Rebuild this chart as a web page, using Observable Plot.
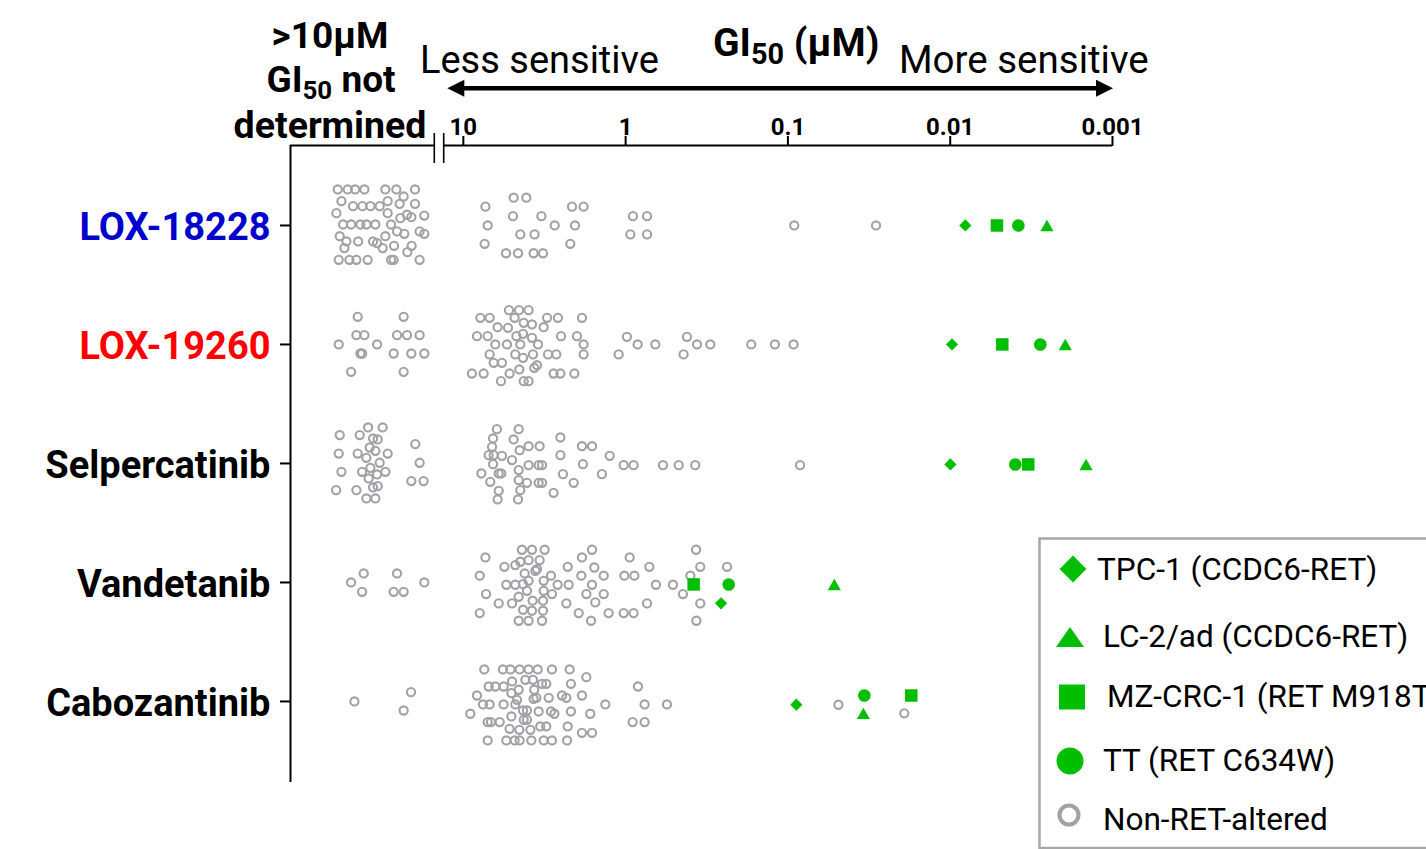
<!DOCTYPE html>
<html><head><meta charset="utf-8">
<script src="https://cdn.jsdelivr.net/npm/d3@7"></script>
<script src="https://cdn.jsdelivr.net/npm/@observablehq/plot@0.6"></script>
<style>
html,body{margin:0;padding:0;background:#fff;overflow:hidden;}
#chart{width:1426px;height:849px;position:relative;overflow:hidden;}
</style></head><body><div id="chart"></div>
<script>
// ---------- data ----------
const drugs = ["LOX-18228", "LOX-19260", "Selpercatinib", "Vandetanib", "Cabozantinib"];
const drugColors = ["#0000cc", "#ff0000", "#000000", "#000000", "#000000"];
const xTickValues = [10, 1, 0.1, 0.01, 0.001];
const xTickLabels = ["10", "1", "0.1", "0.01", "0.001"];
const retLines = ["TPC-1 (CCDC6-RET)", "LC-2/ad (CCDC6-RET)", "MZ-CRC-1 (RET M918T)", "TT (RET C634W)"];

// RET-altered lines: [log10 GI50 (µM), vertical jitter], in retLines order
const retLOX18228    = [[-2.093, 0], [-2.596, 0], [-2.288, 0], [-2.420, 0]];
const retLOX19260    = [[-2.011, 0], [-2.709, 0], [-2.321, 0], [-2.555, 0]];
const retSelper      = [[-2.001, 0.1], [-2.837, 0.1], [-2.481, 0.1], [-2.401, 0.1]];
const retVandetanib  = [[-0.588, 2.1], [-1.286, 0.2], [-0.419, 0.2], [-0.635, 0.2]];
const retCabozantinib= [[-1.052, 0.33], [-1.465, 1.2], [-1.760, -0.6], [-1.471, -0.6]];

// Non-RET-altered lines with measured GI50: [log10 GI50 (µM), vertical jitter]
const nonRetLOX18228 = [[0.864,-1.9],[0.850,0],[0.869,1.85],[0.690,-2.8],[0.612,-2.8],[0.694,-0.94],[0.519,-0.94],[0.437,0],[0.312,0],[0.649,0.9],[0.561,0.9],[0.341,1.85],[0.737,2.8],[0.663,2.8],[0.567,2.8],[0.509,2.8],[0.330,-1.9],[0.259,-1.9],[-0.045,-0.94],[-0.132,-0.94],[-0.029,0.9],[-0.132,0.9],[-1.039,0],[-1.543,0]];
const nonRetLOX19260 = [[0.719,-3.46],[0.657,-3.46],[0.598,-3.46],[0.895,-2.69],[0.838,-2.69],[0.684,-2.69],[0.484,-2.69],[0.417,-2.69],[0.269,-2.69],[0.628,-2.18],[0.577,-2.02],[0.505,-1.74],[0.789,-1.74],[0.725,-1.68],[0.916,-0.84],[0.850,-0.84],[0.673,-0.84],[0.632,-1.07],[0.577,-0.67],[0.398,-0.84],[0.300,-0.84],[0.803,0],[0.731,0],[0.649,0],[0.540,0],[0.259,0],[-0.074,0],[-0.183,0],[-0.440,0],[-0.522,0],[-0.008,-0.77],[-0.378,-0.77],[0.838,1.0],[0.680,1.0],[0.632,1.35],[0.571,1.0],[0.478,1.0],[0.427,1.0],[0.259,1.0],[0.043,1.0],[-0.357,1.0],[0.813,1.85],[0.762,1.85],[0.546,2.09],[0.563,2.35],[0.655,2.52],[0.947,2.93],[0.875,2.93],[0.715,2.93],[0.444,2.93],[0.402,2.93],[0.316,2.93],[0.768,3.7],[0.628,3.7],[0.598,3.7],[-0.774,0],[-0.920,0],[-1.035,0]];
const nonRetSelper = [[0.793,-3.46],[0.659,-3.46],[0.817,-2.52],[0.690,-2.42],[0.402,-2.62],[0.823,-1.68],[0.653,-1.34],[0.598,-1.74],[0.530,-1.74],[0.269,-1.74],[0.207,-1.74],[0.844,-0.84],[0.813,-0.84],[0.762,-0.77],[0.700,-0.34],[0.402,-0.84],[0.098,-0.77],[0.817,0.07],[0.598,0.17],[0.536,0.17],[0.515,0.17],[0.263,0.07],[0.012,0.17],[-0.049,0.17],[-0.230,0.17],[-0.327,0.17],[-0.429,0.17],[0.889,1.01],[0.782,1.01],[0.766,1.01],[0.659,0.67],[0.386,1.08],[0.146,1.08],[0.834,1.85],[0.659,1.68],[0.608,1.95],[0.536,1.95],[0.515,1.95],[0.320,1.95],[0.782,2.76],[0.649,2.69],[0.444,2.96],[0.789,3.63],[0.663,3.63],[-1.075,0.17]];
const nonRetVandetanib = [[0.639,-3.30],[0.577,-3.30],[0.499,-3.30],[0.864,-2.52],[0.649,-2.09],[0.598,-2.25],[0.530,-2.25],[0.747,-1.58],[0.680,-1.75],[0.546,-1.35],[0.556,-1.18],[0.899,-0.68],[0.622,-0.91],[0.460,-0.68],[0.598,-0.17],[0.735,0.23],[0.680,0.23],[0.632,0.17],[0.505,-0.17],[0.419,0.23],[0.351,0.23],[0.608,0.84],[0.505,0.84],[0.454,1.17],[0.860,1.17],[0.659,1.44],[0.782,2.11],[0.700,2.11],[0.573,1.84],[0.509,1.84],[0.899,3.09],[0.632,2.75],[0.577,2.85],[0.509,2.85],[0.659,3.86],[0.598,3.86],[0.515,3.86],[0.357,-1.58],[0.269,-2.52],[0.207,-3.30],[0.193,-1.51],[0.273,-0.68],[0.135,-0.68],[0.207,0.23],[0.242,1.17],[0.135,1.17],[0.365,2.11],[0.187,2.01],[0.289,3.09],[0.213,3.86],[0.105,3.09],[-0.025,-2.52],[-0.146,-1.58],[0.008,-0.68],[-0.054,-0.68],[-0.187,0.23],[-0.292,0.23],[-0.353,1.17],[-0.132,2.11],[0.012,3.09],[-0.049,3.09],[-0.434,-3.30],[-0.460,-1.58],[-0.399,-0.68],[-0.460,2.11],[-0.436,3.86],[-0.625,-1.58]];
const nonRetCabozantinib = [[0.871,-3.23],[0.756,-3.23],[0.710,-3.23],[0.653,-3.23],[0.598,-3.23],[0.542,-3.23],[0.454,-3.23],[0.345,-3.23],[0.242,-2.45],[0.618,-2.18],[0.571,-2.18],[0.700,-2.02],[0.515,-1.78],[0.489,-1.78],[0.337,-1.78],[0.844,-1.51],[0.803,-1.51],[0.752,-1.51],[0.659,-1.18],[0.563,-1.18],[-0.076,-1.51],[0.916,-0.60],[0.704,-0.84],[0.669,-0.17],[0.567,-0.27],[0.550,-0.37],[0.474,-0.37],[0.392,-0.60],[0.365,-0.37],[0.269,-0.60],[0.879,0.30],[0.838,0.30],[0.752,0.30],[0.680,0.30],[0.125,0.30],[-0.117,0.30],[-0.255,0.30],[0.957,1.24],[0.632,0.91],[0.608,0.91],[0.536,1.01],[0.460,1.01],[0.439,1.24],[0.337,1.01],[0.218,1.24],[0.704,1.51],[0.850,2.08],[0.830,2.08],[0.776,2.08],[0.628,1.85],[0.608,1.85],[0.526,2.52],[0.489,2.52],[0.357,2.52],[-0.043,2.08],[-0.117,2.08],[0.715,2.76],[0.655,2.86],[0.587,2.86],[0.269,3.16],[0.207,3.16],[0.850,3.93],[0.735,3.93],[0.684,3.93],[0.653,3.93],[0.581,3.93],[0.505,3.93],[0.454,3.93],[0.361,3.93],[-1.311,0.33],[-1.717,1.2]];

// >10 µM, GI50 not determined: [position across the ND band (0–14.4), vertical jitter]
const ndLOX18228 = [[4.73,-3.63],[5.73,-3.63],[6.47,-3.63],[7.4,-3.63],[9.5,-3.63],[10.6,-3.63],[12.47,-3.63],[11.33,-2.92],[5.1,-2.45],[9.73,-2.45],[6.27,-1.95],[7.2,-1.95],[8.0,-1.95],[8.93,-1.95],[10.93,-2.18],[12.47,-2.18],[4.6,-1.24],[9.73,-1.24],[11.0,-0.74],[11.67,-1.08],[12.1,-0.84],[13.4,-1.0],[5.27,-0.1],[6.07,-0.1],[7.0,-0.1],[7.6,-0.1],[8.5,-0.1],[10.07,-0.1],[10.67,0.6],[11.4,0.84],[12.93,0.6],[13.4,0.84],[4.93,1.08],[9.5,1.08],[5.6,1.61],[6.77,1.61],[8.27,1.61],[8.67,1.78],[5.4,2.28],[9.23,2.28],[10.37,2.05],[12.13,2.05],[11.7,2.69],[4.83,3.46],[5.9,3.46],[6.6,3.46],[7.73,3.46],[10.07,3.46],[10.33,3.46],[12.93,3.46]];
const ndLOX19260 = [[6.73,-2.79],[11.33,-2.79],[6.6,-0.94],[7.4,-0.94],[10.67,-0.94],[11.67,-0.94],[12.93,-0.94],[4.83,0],[8.67,0],[7.0,0.91],[7.17,0.91],[10.33,0.91],[12.1,0.91],[13.4,0.91],[6.07,2.76],[11.33,2.76]];
const ndSelper = [[4.93,-2.86],[6.93,-2.86],[7.77,-3.63],[9.23,-3.63],[8.27,-2.52],[8.73,-2.42],[4.83,-1.0],[6.73,-1.0],[7.93,-1.61],[8.5,-1.27],[9.73,-1.0],[7.6,-0.57],[8.93,-0.07],[5.1,0.84],[7.17,0.84],[8.0,0.44],[8.67,1.11],[9.5,0.84],[7.83,1.51],[4.57,2.69],[6.6,2.69],[8.27,2.42],[8.73,2.29],[7.6,3.53],[8.5,3.53],[12.5,-1.95],[12.93,-0.07],[12.1,1.78],[13.33,1.78]];
const ndVandetanib = [[6.07,0],[7.33,-0.91],[7.17,0.94],[10.67,-0.91],[10.33,0.94],[11.33,0.94],[13.4,0]];
const ndCabozantinib = [[6.4,0],[12.07,-0.94],[11.33,0.91]];

const retByDrug = [retLOX18228, retLOX19260, retSelper, retVandetanib, retCabozantinib];
const nonRetByDrug = [nonRetLOX18228, nonRetLOX19260, nonRetSelper, nonRetVandetanib, nonRetCabozantinib];
const ndByDrug = [ndLOX18228, ndLOX19260, ndSelper, ndVandetanib, ndCabozantinib];

// ---------- scales (x = -log10 GI50) ----------
const X0 = -2.065, X1 = 3;
const Y0 = -0.672, Y1 = 4.681;
const BREAK_L = -1.179, BREAK_R = -1.121;
const ndUnit = (BREAK_L - X0) / 14.4;
const JIT = 12; // jitter steps per row

const gray = [];
nonRetByDrug.forEach((arr, i) => arr.forEach(([lg, j]) => gray.push({u: -lg, y: i + j / JIT})));
ndByDrug.forEach((arr, i) => arr.forEach(([p, j]) => gray.push({u: X0 + p * ndUnit, y: i + j / JIT})));
const ret = [];
retByDrug.forEach((arr, i) => arr.forEach(([lg, j], k) => ret.push({u: -lg, y: i + j / JIT, k, line: retLines[k]})));
const labels = drugs.map((d, i) => ({d, i, c: drugColors[i]}));
const tickU = xTickValues.map(v => -Math.log10(v));
const G = "#00bf00", GRAY = "#a2a2a6";

const plot = Plot.plot({
  width: 1426, height: 849,
  marginLeft: 290, marginRight: 314, marginTop: 145, marginBottom: 67,
  style: {fontFamily: "Roboto, sans-serif", background: "white", color: "#000"},
  x: {domain: [X0, X1], axis: null},
  y: {domain: [Y0, Y1], reverse: true, axis: null},
  color: {type: "identity"},
  marks: [
    Plot.ruleX([X0], {stroke: "#000", strokeWidth: 2}),
    Plot.ruleY([{a: X0, b: BREAK_L}, {a: BREAK_R, b: X1}], {y: () => Y0, x1: "a", x2: "b", stroke: "#000", strokeWidth: 2}),
    Plot.ruleX([BREAK_L, BREAK_R], {y1: Y0 - 12 / 119, y2: Y0 + 18 / 119, stroke: "#000", strokeWidth: 1.6}),
    Plot.axisX(tickU, {anchor: "top", tickSize: 10, tickPadding: 1, strokeWidth: 2, label: null,
      tickFormat: d => xTickLabels[tickU.findIndex(t => Math.abs(t - d) < 1e-9)],
      fontSize: 24, fontWeight: "bold", fill: "#000"}),
    Plot.axisY([0, 1, 2, 3, 4], {anchor: "left", tickSize: 10, strokeWidth: 2, label: null, tickFormat: () => ""}),
    Plot.text(labels, {y: "i", text: "d", fill: "c", frameAnchor: "left", textAnchor: "end", dx: -20, dy: 2, fontSize: 38, fontWeight: "bold"}),
    Plot.dot(gray, {x: "u", y: "y", r: 4.1, stroke: GRAY, strokeWidth: 2.1, fill: "none"}),
    Plot.dot(ret.filter(d => d.k === 0), {x: "u", y: "y", symbol: "square", rotate: 45, r: 4.9, fill: G, stroke: "none"}),
    Plot.dot(ret.filter(d => d.k === 1), {x: "u", y: "y", symbol: "triangle", r: 4.9, dy: 1.9, fill: G, stroke: "none"}),
    Plot.dot(ret.filter(d => d.k === 2), {x: "u", y: "y", symbol: "square", r: 7.05, fill: G, stroke: "none"}),
    Plot.dot(ret.filter(d => d.k === 3), {x: "u", y: "y", symbol: "circle", r: 6.3, fill: G, stroke: "none"})
  ]
});
document.getElementById("chart").appendChild(plot);

// ---------- header, arrow, legend ----------
const svg = d3.select(plot);
const sx = plot.scale("x");
const H = svg.append("g").attr("font-family", "Roboto, sans-serif").attr("fill", "#000");
function txt(x, y, anchor, size, weight, parts, subScale = 0.7) {
  const t = H.append("text").attr("x", x).attr("y", y).attr("text-anchor", anchor)
    .attr("font-size", size).attr("font-weight", weight);
  parts.forEach(p => {
    const s = t.append("tspan").text(p.t);
    if (p.sub) s.attr("font-size", size * subScale).attr("dy", size * 0.2);
    if (p.back) s.attr("dy", -size * 0.2);
  });
  return t;
}
txt(330, 48, "middle", 37, "bold", [{t: ">10µM"}]);
txt(331, 92, "middle", 37, "bold", [{t: "GI"}, {t: "50", sub: true}, {t: " not", back: true}]);
txt(330, 138, "middle", 37.5, "bold", [{t: "determined"}]);
txt(420, 73, "start", 38, "normal", [{t: "Less sensitive"}]);
txt(713, 56, "start", 39, "bold", [{t: "GI"}, {t: "50", sub: true}, {t: " (µM)", back: true}], 0.74);
txt(899, 73, "start", 38.5, "normal", [{t: "More sensitive"}]);

const ay = 88.3, lt = sx.apply(-1) - 15.5, rt = sx.apply(X1) + 1;
H.append("line").attr("x1", lt + 10).attr("x2", rt - 10).attr("y1", ay).attr("y2", ay).attr("stroke", "#000").attr("stroke-width", 4.5);
H.append("path").attr("d", `M${lt},${ay}L${lt + 17},${ay - 8.5}L${lt + 17},${ay + 8.5}Z`);
H.append("path").attr("d", `M${rt},${ay}L${rt - 17},${ay - 8.5}L${rt - 17},${ay + 8.5}Z`);

const L = svg.append("g").attr("font-family", "Roboto, sans-serif").attr("text-anchor", "start");
L.append("rect").attr("x", 1039.5).attr("y", 538.5).attr("width", 420).attr("height", 309.5)
  .attr("fill", "white").attr("stroke", "#a8a8a8").attr("stroke-width", 2.5);
L.append("path").attr("d", d3.symbol(d3.symbolSquare, 361)()).attr("transform", "translate(1073,569) rotate(45)").attr("fill", G);
L.append("path").attr("d", "M1056,647L1084,647L1070,627Z").attr("fill", G);
L.append("rect").attr("x", 1059).attr("y", 684.5).attr("width", 26).attr("height", 25).attr("fill", G);
L.append("circle").attr("cx", 1070).attr("cy", 761).attr("r", 13.5).attr("fill", G);
L.append("circle").attr("cx", 1069).attr("cy", 815).attr("r", 9.5).attr("fill", "none").attr("stroke", GRAY).attr("stroke-width", 4);
const legendText = [...retLines, "Non-RET-altered"];
const lx = [1097, 1103, 1107, 1103, 1103], ly = [580, 647, 707, 771, 830];
legendText.forEach((t, i) => L.append("text").attr("x", lx[i]).attr("y", ly[i]).attr("text-anchor", "start").attr("font-size", 31.5).attr("fill", "#000").text(t));
</script></body></html>
